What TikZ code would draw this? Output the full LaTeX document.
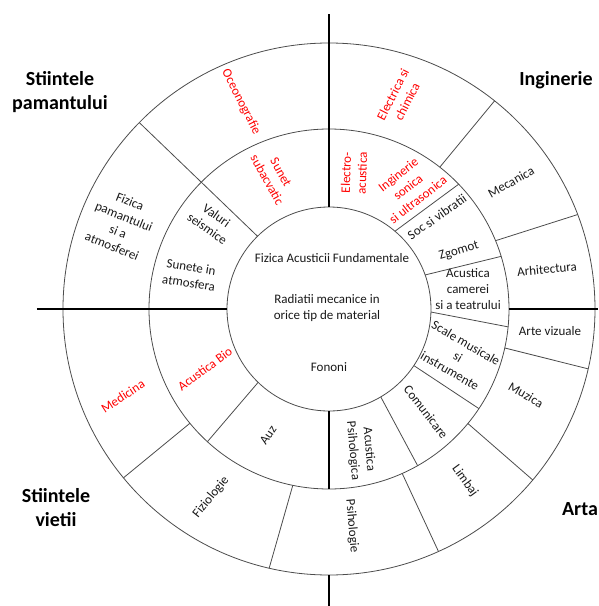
\documentclass[tikz,border=0pt]{standalone}
\usepackage{fontspec}
\setmainfont{Carlito}
\usepackage{tikz}

\begin{document}
\begin{tikzpicture}[x=1pt,y=1pt]
	\tikzset{ring/.style={draw=black!70, line width=0.8pt}}
	\tikzset{axis/.style={line width=2.4pt}}
	\tikzset{lbl/.style={font=\fontsize{13}{16}\selectfont, align=center, inner sep=1pt, text=black!90}}
	\tikzset{hot/.style={lbl, text=red}}
	\tikzset{field/.style={font=\bfseries\fontsize{20}{24}\selectfont, align=center, inner sep=1pt}}
	\useasboundingbox (-329,-297) rectangle (269,309);

	% circles
	\draw[ring] (0,0) circle[radius=102pt];
	\draw[ring] (0,0) circle[radius=180pt];
	\draw[ring] (0,0) circle[radius=266pt];

	% thin dividers
	\draw[ring] (134.5:102) -- (135.5:266);
	\draw[ring] (52:180) -- (51.5:266);
	\draw[ring] (22.3:180) -- (20.8:266);
	\draw[ring] (-12.5:180) -- (-13:266);
	\draw[ring] (-39.5:180) -- (-40:266);
	\draw[ring] (-66:180) -- (-65.7:266);
	\draw[ring] (-101.6:180) -- (-103:266);
	\draw[ring] (-140.6:180) -- (-140.6:266);
	\draw[ring] (49.7:102) -- (43.9:180);
	\draw[ring] (19.5:102) -- (17:180);
	\draw[ring] (-1.7:102) -- (-5.7:180);
	\draw[ring] (-33.7:102) -- (-33.6:180);
	\draw[ring] (-59.5:102) -- (-60.5:180);
	\draw[ring] (-134:102) -- (-132.5:180);

	% axes
	\draw[axis] (0,295) -- (90:102);
	\draw[axis] (-90:102) -- (-90:180);
	\draw[axis] (-90:266) -- (0,-297);
	\draw[axis] (-292,0) -- (180:102);
	\draw[axis] (0:180) -- (269,0);

	% centre
	\node[lbl] (fund) at (3,51) {Fizica Acusticii Fundamentale};
	\node[lbl] (rad) at (-2,1) {Radiatii mecanice in\\orice tip de material};
	\node[lbl] (fon) at (0,-58) {Fononi};

	% middle ring
	\node[hot, rotate=-61] (subac) at (-55,133) {Sunet\\subacvatic};
	\node[hot, rotate=88] (elac) at (25,136) {Electro-\\acustica};
	\node[hot, rotate=38] (ultra) at (79,122) {Inginerie\\sonica\\si ultrasonica};
	\node[lbl, rotate=35] (soc) at (108,92) {Soc si vibratii};
	\node[lbl, rotate=17] (zgom) at (130,58) {Zgomot};
	\node[lbl] (cam) at (139,20) {Acustica\\camerei\\si a teatrului};
	\node[lbl, rotate=-30] (scale) at (129,-48) {Scale musicale\\si\\instrumente};
	\node[lbl, rotate=-52] (com) at (97,-103) {Comunicare};
	\node[lbl, rotate=-85] (psac) at (32,-141) {Acustica\\Psihologica};
	\node[lbl, rotate=55] (auz) at (-61,-126) {Auz};
	\node[hot, rotate=36] (bio) at (-124,-60) {Acustica Bio};
	\node[lbl, rotate=-9] (atm) at (-139,34) {Sunete in\\atmosfera};
	\node[lbl, rotate=-35] (seism) at (-117,87) {Valuri\\seismice};

	% outer ring
	\node[hot, rotate=-63] (ocean) at (-88,207) {Oceonografie};
	\node[hot, rotate=63] (elchim) at (71,211) {Electrica si\\chimica};
	\node[lbl, rotate=29] (mec) at (182,127) {Mecanica};
	\node[lbl, rotate=5] (arh) at (218,40) {Arhitectura};
	\node[lbl] (viz) at (221,-22) {Arte vizuale};
	\node[lbl, rotate=-30] (muz) at (197,-86) {Muzica};
	\node[lbl, rotate=-54] (limb) at (136,-172) {Limbaj};
	\node[lbl, rotate=-85] (psih) at (23,-217) {Psihologie};
	\node[lbl, rotate=51] (fizio) at (-118,-188) {Fiziologie};
	\node[hot, rotate=33] (med) at (-206,-87) {Medicina};
	\node[lbl, rotate=-22] (pam) at (-208,85) {Fizica\\pamantului\\si a\\atmosferei};

	% fields
	\node[field] (earth) at (-269,217) {Stiintele\\pamantului};
	\node[field] (eng) at (227,229) {Inginerie};
	\node[field] (life) at (-273,-199) {Stiintele\\vietii};
	\node[field] (art) at (251,-200) {Arta};
\end{tikzpicture}
\end{document}
